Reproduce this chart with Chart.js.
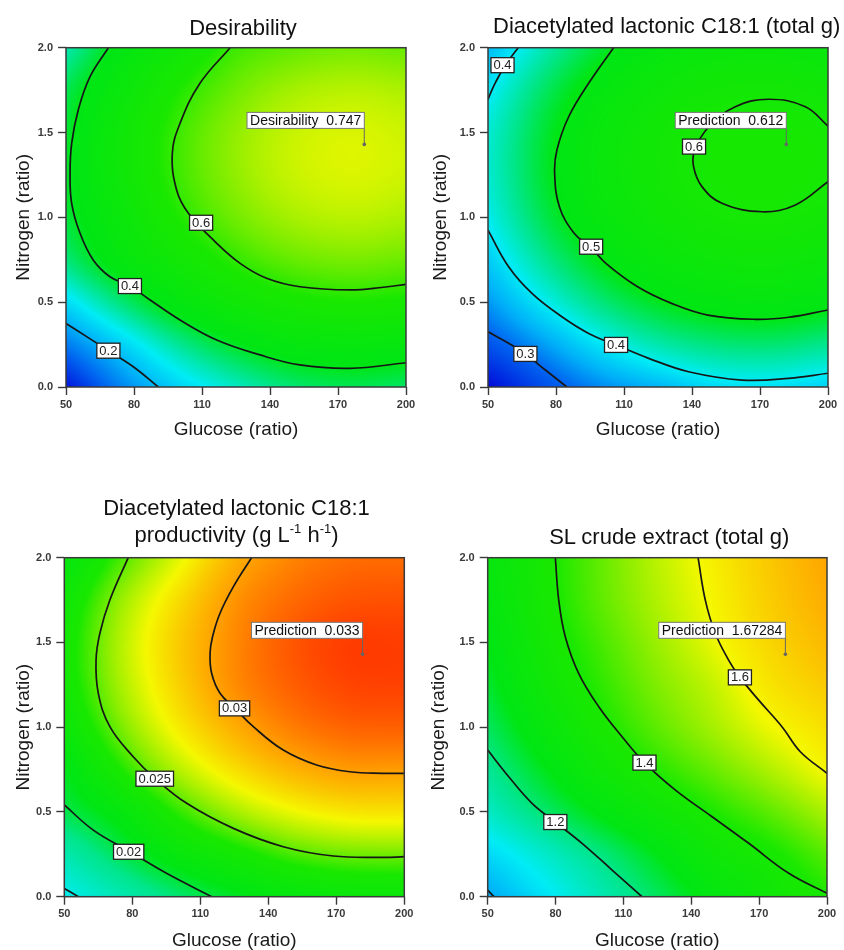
<!DOCTYPE html>
<html>
<head>
<meta charset="utf-8">
<script src="https://cdn.jsdelivr.net/npm/chart.js@4.4.1/dist/chart.umd.min.js"></script>
<style>
html,body{margin:0;padding:0;background:#fff;width:844px;height:950px;overflow:hidden;position:relative;}
canvas.c{position:absolute;}
.t{position:absolute;font-family:'Liberation Sans',Arial,sans-serif;font-size:22px;line-height:26px;color:#111;text-align:center;width:500px;white-space:nowrap;z-index:2;}
.t sup{font-size:13px;line-height:0;vertical-align:9px;}
</style>
</head>
<body>
<div class="t" style="left:-7px;top:15px">Desirability</div>
<div class="t" style="left:416.7px;top:13px">Diacetylated lactonic C18:1 (total g)</div>
<div class="t" style="left:-13.5px;top:495px;line-height:26.7px">Diacetylated lactonic C18:1<br>productivity (g L<sup>-1</sup> h<sup>-1</sup>)</div>
<div class="t" style="left:419.2px;top:524px">SL crude extract (total g)</div>
<canvas id="c1" class="c" width="422" height="460" style="left:0;top:0;width:422px;height:460px"></canvas>
<canvas id="c2" class="c" width="422" height="460" style="left:422px;top:0;width:422px;height:460px"></canvas>
<canvas id="c3" class="c" width="422" height="490" style="left:0;top:460px;width:422px;height:490px"></canvas>
<canvas id="c4" class="c" width="422" height="490" style="left:422px;top:460px;width:422px;height:490px"></canvas>
<script>
// ---------------- data ----------------
const glucoseGrid = [50, 75, 100, 125, 150, 175, 200];
const nitrogenGrid = [0, 0.25, 0.5, 0.75, 1.0, 1.25, 1.5, 1.75, 2.0];
const glucoseTicks = [50, 80, 110, 140, 170, 200];
const nitrogenTicks = [0, 0.5, 1.0, 1.5, 2.0];
const nitrogenTickLabels = ['0.0', '0.5', '1.0', '1.5', '2.0'];

// response grids: one row per nitrogen level (0 → 2.0), one column per glucose level
const desirabilityGrid = [
  [0.05, 0.16, 0.24, 0.30, 0.35, 0.37, 0.36],
  [0.15, 0.24, 0.33, 0.40, 0.445, 0.455, 0.45],
  [0.25, 0.35, 0.44, 0.511, 0.556, 0.573, 0.563],
  [0.345, 0.445, 0.523, 0.596, 0.641, 0.658, 0.647],
  [0.385, 0.48, 0.58, 0.652, 0.697, 0.714, 0.703],
  [0.395, 0.507, 0.607, 0.679, 0.725, 0.742, 0.731],
  [0.39, 0.507, 0.607, 0.679, 0.724, 0.741, 0.730],
  [0.37, 0.478, 0.578, 0.650, 0.695, 0.712, 0.702],
  [0.31, 0.43, 0.521, 0.605, 0.638, 0.655, 0.644]
];
const lactonicGrid = [
  [0.20, 0.275, 0.325, 0.356, 0.385, 0.39, 0.378],
  [0.28, 0.339, 0.395, 0.434, 0.456, 0.461, 0.449],
  [0.335, 0.401, 0.457, 0.495, 0.517, 0.522, 0.511],
  [0.374, 0.446, 0.502, 0.541, 0.563, 0.568, 0.556],
  [0.403, 0.476, 0.532, 0.571, 0.593, 0.598, 0.586],
  [0.416, 0.489, 0.545, 0.584, 0.606, 0.611, 0.602],
  [0.414, 0.486, 0.542, 0.581, 0.603, 0.608, 0.601],
  [0.394, 0.467, 0.523, 0.562, 0.584, 0.589, 0.577],
  [0.359, 0.432, 0.488, 0.527, 0.549, 0.554, 0.542]
];
const productivityGrid = [
  [0.0142, 0.0168, 0.0190, 0.0205, 0.0215, 0.0221, 0.0222],
  [0.0170, 0.0197, 0.0218, 0.0232, 0.0245, 0.0251, 0.0252],
  [0.0197, 0.0216, 0.0241, 0.0260, 0.0273, 0.0280, 0.0281],
  [0.0207, 0.0238, 0.0263, 0.0282, 0.0295, 0.0302, 0.0302],
  [0.0222, 0.0253, 0.0278, 0.0297, 0.0310, 0.0317, 0.0318],
  [0.0230, 0.0261, 0.0286, 0.0306, 0.0318, 0.0325, 0.0326],
  [0.0231, 0.0263, 0.0288, 0.0307, 0.0320, 0.0327, 0.0327],
  [0.0226, 0.0258, 0.0283, 0.0304, 0.0315, 0.0321, 0.0322],
  [0.0214, 0.0245, 0.0271, 0.0296, 0.0308, 0.0314, 0.0315]
];
const crudeGrid = [
  [0.99, 1.075, 1.15, 1.22, 1.29, 1.35, 1.40],
  [1.06, 1.13, 1.198, 1.27, 1.345, 1.39, 1.455],
  [1.135, 1.21, 1.28, 1.345, 1.403, 1.46, 1.53],
  [1.18, 1.265, 1.345, 1.41, 1.47, 1.535, 1.605],
  [1.22, 1.31, 1.39, 1.46, 1.525, 1.595, 1.65],
  [1.25, 1.345, 1.418, 1.49, 1.555, 1.64, 1.695],
  [1.275, 1.365, 1.44, 1.515, 1.59, 1.67, 1.73],
  [1.295, 1.38, 1.46, 1.535, 1.607, 1.69, 1.755],
  [1.305, 1.385, 1.465, 1.545, 1.62, 1.70, 1.77]
];

// colour ramp (blue → cyan → green → yellow → red) and the response value of each ramp colour per panel
const colourRamp = [[0,0,215],[0,100,240],[0,175,248],[0,236,245],[0,230,140],[0,230,20],[25,232,0],[140,238,0],[245,248,0],[255,165,0],[255,50,0]];
const desirabilityBreaks = [0.03, 0.13, 0.20, 0.27, 0.335, 0.41, 0.575, 0.675, 0.765, 0.86, 0.95];
const lactonicBreaks = [0.19, 0.30, 0.35, 0.40, 0.45, 0.50, 0.62, 0.68, 0.72, 0.80, 0.90];
const productivityBreaks = [0.006, 0.009, 0.0115, 0.0140, 0.0185, 0.0209, 0.0238, 0.0256, 0.0275, 0.0300, 0.0330];
const crudeBreaks = [0.82, 0.92, 1.00, 1.09, 1.19, 1.27, 1.40, 1.50, 1.60, 1.77, 1.95];

// contour lines (glucose, nitrogen)
const desirabilityContour02 = [{x:50,y:0.375},{x:59.1,y:0.297},{x:68.7,y:0.214},{x:79.7,y:0.119},{x:90.7,y:0}];
const desirabilityContour04 = [{x:68.7,y:2.0},{x:60.6,y:1.829},{x:55.4,y:1.633},{x:52.5,y:1.436},{x:51.8,y:1.26},{x:52.5,y:1.083},{x:56.2,y:0.906},{x:62.0,y:0.749},{x:69.4,y:0.65},{x:78.2,y:0.595},{x:87.1,y:0.513},{x:100.3,y:0.395},{x:116.5,y:0.277},{x:135.6,y:0.189},{x:153.2,y:0.13},{x:175.3,y:0.11},{x:200,y:0.143}];
const desirabilityContour06 = [{x:122.4,y:2.0},{x:109.1,y:1.79},{x:100.3,y:1.554},{x:96.9,y:1.377},{x:98.8,y:1.161},{x:104,y:1.024},{x:116.5,y:0.847},{x:126.8,y:0.729},{x:138.5,y:0.641},{x:153.2,y:0.591},{x:175.3,y:0.572},{x:190,y:0.588},{x:200,y:0.605}];
const desirabilityLabels = [{x:109.6,y:0.968,text:'0.6'},{x:78.2,y:0.595,text:'0.4'},{x:68.7,y:0.214,text:'0.2'}];
const desirabilityPrediction = {x:181.6, y:1.43, text:'Desirability  0.747'};

const lactonicContour03 = [{x:50,y:0.326},{x:59.1,y:0.258},{x:66.5,y:0.195},{x:75.3,y:0.1},{x:84.8,y:0}];
const lactonicContour04a = [{x:50,y:1.695},{x:51.7,y:1.75},{x:53.5,y:1.8},{x:56.4,y:1.87},{x:59.4,y:1.93},{x:63.3,y:2.0}];
const lactonicContour04b = [{x:50,y:0.925},{x:59.1,y:0.709},{x:69.4,y:0.552},{x:82.6,y:0.414},{x:94.4,y:0.316},{x:106.5,y:0.248},{x:120.9,y:0.169},{x:138.5,y:0.09},{x:162,y:0.041},{x:182.7,y:0.051},{x:200,y:0.081}];
const lactonicContour05 = [{x:105.4,y:2.0},{x:94.4,y:1.79},{x:85.6,y:1.593},{x:80.4,y:1.397},{x:79.4,y:1.26},{x:81.5,y:1.063},{x:88,y:0.906},{x:95,y:0.827},{x:102,y:0.729},{x:116,y:0.591},{x:131,y:0.493},{x:147,y:0.424},{x:167.9,y:0.399},{x:182.7,y:0.411},{x:200,y:0.454}];
const lactonicContour06 = [{x:200,y:1.538},{x:190,y:1.652},{x:173.8,y:1.696},{x:159.1,y:1.652},{x:147.4,y:1.534},{x:141.2,y:1.397},{x:140.7,y:1.299},{x:144.4,y:1.181},{x:153.2,y:1.083},{x:170.9,y:1.033},{x:185.6,y:1.073},{x:200,y:1.21}];
const lactonicLabels = [{x:56.4,y:1.897,text:'0.4'},{x:140.9,y:1.417,text:'0.6'},{x:95.5,y:0.827,text:'0.5'},{x:106.5,y:0.248,text:'0.4'},{x:66.5,y:0.195,text:'0.3'}];
const lactonicPrediction = {x:181.6, y:1.43, text:'Prediction  0.612'};

const productivityContour015 = [{x:50,y:0.049},{x:56.2,y:0}];
const productivityContour02 = [{x:50,y:0.541},{x:62.8,y:0.393},{x:78.6,y:0.268},{x:95.1,y:0.138},{x:115,y:0}];
const productivityContour025 = [{x:78.2,y:2.0},{x:70.1,y:1.75},{x:65.7,y:1.554},{x:64,y:1.396},{x:65,y:1.2},{x:70.1,y:1.003},{x:80.4,y:0.826},{x:90,y:0.698},{x:104,y:0.551},{x:124.6,y:0.403},{x:146.6,y:0.295},{x:168.7,y:0.24},{x:190.7,y:0.232},{x:200,y:0.236}];
const productivityContour03 = [{x:132.6,y:2.0},{x:124.6,y:1.829},{x:118.7,y:1.672},{x:115.4,y:1.534},{x:114.3,y:1.436},{x:115,y:1.318},{x:118.7,y:1.2},{x:125.3,y:1.111},{x:133.4,y:1.003},{x:146.6,y:0.865},{x:161.3,y:0.777},{x:176,y:0.737},{x:190.7,y:0.728},{x:200,y:0.728}];
const productivityLabels = [{x:125.1,y:1.111,text:'0.03'},{x:89.9,y:0.696,text:'0.025'},{x:78.4,y:0.265,text:'0.02'}];
const productivityPrediction = {x:181.6, y:1.43, text:'Prediction  0.033'};

const crudeContour10 = [{x:50,y:0.039},{x:52.7,y:0}];
const crudeContour12 = [{x:50,y:0.865},{x:59.3,y:0.708},{x:69.6,y:0.551},{x:79.9,y:0.44},{x:91.7,y:0.315},{x:105,y:0.157},{x:118.2,y:0}];
const crudeContour14 = [{x:79.9,y:2.0},{x:81.4,y:1.75},{x:84.3,y:1.534},{x:90.2,y:1.318},{x:99.1,y:1.121},{x:109.4,y:0.944},{x:119.3,y:0.791},{x:133,y:0.629},{x:149.2,y:0.472},{x:165.4,y:0.315},{x:183.1,y:0.138},{x:200,y:0.02}];
const crudeContour16 = [{x:143,y:2.0},{x:146.2,y:1.75},{x:150.6,y:1.554},{x:156.5,y:1.396},{x:161.5,y:1.294},{x:169.8,y:1.16},{x:180.1,y:1.003},{x:188.2,y:0.855},{x:200,y:0.728}];
const crudeLabels = [{x:161.5,y:1.294,text:'1.6'},{x:119.3,y:0.791,text:'1.4'},{x:79.9,y:0.4405,text:'1.2'}];
const crudePrediction = {x:181.6, y:1.43, text:'Prediction  1.67284'};

// ---------------- rendering helpers ----------------
const FONT = "'Liberation Sans', Arial, sans-serif";
Chart.defaults.font.family = FONT;

function fracIndex(axis, v) {
  const n = axis.length;
  if (v <= axis[0]) return (v - axis[0]) / (axis[1] - axis[0]);
  for (let i = 0; i < n - 1; i++) {
    if (v <= axis[i + 1]) return i + (v - axis[i]) / (axis[i + 1] - axis[i]);
  }
  return n - 1 + (v - axis[n - 1]) / (axis[n - 1] - axis[n - 2]);
}
function padGrid(grid) {
  const nx = grid[0].length, ny = grid.length;
  const rows = grid.map(r => [2 * r[0] - r[1], ...r, 2 * r[nx - 1] - r[nx - 2]]);
  const first = rows[0].map((v, i) => 2 * v - rows[1][i]);
  const last = rows[ny - 1].map((v, i) => 2 * v - rows[ny - 2][i]);
  return [first, ...rows, last];
}
function cubic(p0, p1, p2, p3, t) {
  return p1 + 0.5 * t * (p2 - p0 + t * (2 * p0 - 5 * p1 + 4 * p2 - p3 + t * (3 * (p1 - p2) + p3 - p0)));
}
function sampleField(ext, fx, fy, nx, ny) {
  const i0 = Math.min(Math.max(Math.floor(fx), 0), nx - 2), tx = fx - i0;
  const j0 = Math.min(Math.max(Math.floor(fy), 0), ny - 2), ty = fy - j0;
  const c = [0, 0, 0, 0];
  for (let k = 0; k < 4; k++) {
    const r = ext[j0 + k];
    c[k] = cubic(r[i0], r[i0 + 1], r[i0 + 2], r[i0 + 3], tx);
  }
  return cubic(c[0], c[1], c[2], c[3], ty);
}
function rampColour(breaks, v, out) {
  const n = breaks.length;
  if (v <= breaks[0]) { const c = colourRamp[0]; out[0]=c[0]; out[1]=c[1]; out[2]=c[2]; return; }
  for (let k = 0; k < n - 1; k++) {
    if (v <= breaks[k + 1]) {
      const t = (v - breaks[k]) / (breaks[k + 1] - breaks[k]);
      const a = colourRamp[k], b = colourRamp[k + 1];
      out[0] = a[0] + (b[0] - a[0]) * t; out[1] = a[1] + (b[1] - a[1]) * t; out[2] = a[2] + (b[2] - a[2]) * t;
      return;
    }
  }
  const c = colourRamp[n - 1]; out[0]=c[0]; out[1]=c[1]; out[2]=c[2];
}

function panelPlugin(p) {
  return {
    id: 'panel_' + p.id,
    beforeDatasetsDraw(chart) {
      const {ctx, chartArea: a, scales: {x, y}} = chart;
      const W = a.right - a.left, H = a.bottom - a.top;
      const w = Math.round(W), h = Math.round(H);
      const off = document.createElement('canvas');
      off.width = w; off.height = h;
      const octx = off.getContext('2d');
      const img = octx.createImageData(w, h);
      const ext = padGrid(p.grid);
      const nx = glucoseGrid.length, ny = nitrogenGrid.length;
      const fxs = new Float64Array(w), fys = new Float64Array(h);
      for (let i = 0; i < w; i++) fxs[i] = fracIndex(glucoseGrid, x.getValueForPixel(a.left + (i + 0.5) * W / w));
      for (let j = 0; j < h; j++) fys[j] = fracIndex(nitrogenGrid, y.getValueForPixel(a.top + (j + 0.5) * H / h));
      const col = [0, 0, 0];
      let k = 0;
      for (let j = 0; j < h; j++) {
        for (let i = 0; i < w; i++) {
          rampColour(p.breaks, sampleField(ext, fxs[i], fys[j], nx, ny), col);
          img.data[k++] = col[0]; img.data[k++] = col[1]; img.data[k++] = col[2]; img.data[k++] = 255;
        }
      }
      octx.putImageData(img, 0, 0);
      ctx.save();
      ctx.drawImage(off, a.left, a.top, W, H);
      ctx.restore();
    },
    afterDatasetsDraw(chart) {
      const {ctx, chartArea: a, scales: {x, y}} = chart;
      ctx.save();
      // frame
      ctx.strokeStyle = '#3a3a3a';
      ctx.lineWidth = 1.5;
      ctx.strokeRect(a.left, a.top, a.right - a.left, a.bottom - a.top);
      // contour labels
      ctx.font = '13px ' + FONT;
      ctx.textAlign = 'center';
      ctx.textBaseline = 'middle';
      for (const L of p.labels) {
        const px = x.getPixelForValue(L.x), py = y.getPixelForValue(L.y);
        const tw = ctx.measureText(L.text).width;
        const bw = tw + 5, bh = 15;
        ctx.fillStyle = '#ffffff';
        ctx.fillRect(px - bw / 2, py - bh / 2, bw, bh);
        ctx.strokeStyle = '#222';
        ctx.lineWidth = 1.3;
        ctx.strokeRect(px - bw / 2, py - bh / 2, bw, bh);
        ctx.fillStyle = '#222';
        ctx.fillText(L.text, px, py + 0.5);
      }
      // prediction flag
      const P = p.pred;
      const px = x.getPixelForValue(P.x), py = y.getPixelForValue(P.y);
      ctx.font = '14px ' + FONT;
      const tw = ctx.measureText(P.text).width;
      const bw = tw + 6, bh = 16, gap = 16;
      ctx.strokeStyle = '#666';
      ctx.lineWidth = 1;
      ctx.beginPath();
      ctx.moveTo(px, py - gap);
      ctx.lineTo(px, py);
      ctx.stroke();
      ctx.fillStyle = '#666';
      ctx.beginPath();
      ctx.arc(px, py, 1.8, 0, Math.PI * 2);
      ctx.fill();
      ctx.fillStyle = '#ffffff';
      ctx.fillRect(px - bw, py - gap - bh, bw, bh);
      ctx.strokeStyle = '#777';
      ctx.strokeRect(px - bw, py - gap - bh, bw, bh);
      ctx.fillStyle = '#111';
      ctx.textAlign = 'center';
      ctx.fillText(P.text, px - bw / 2, py - gap - bh / 2 + 0.5);
      ctx.restore();
    }
  };
}

function makePanel(p) {
  const L = p.layout;
  const datasets = p.contours.map(c => ({
    data: c,
    showLine: true,
    borderColor: '#161616',
    borderWidth: 1.7,
    pointRadius: 0,
    pointHoverRadius: 0,
    tension: 0.4,
    fill: false
  }));
  return new Chart(document.getElementById(p.id), {
    type: 'scatter',
    data: {datasets},
    plugins: [panelPlugin(p)],
    options: {
      responsive: false,
      animation: false,
      devicePixelRatio: 1,
      events: [],
      layout: {padding: {top: L.top, right: L.right, bottom: L.bottom, left: 0}},
      plugins: {legend: {display: false}, tooltip: {enabled: false}, title: {display: false}},
      scales: {
        x: {
          type: 'linear', position: 'bottom', min: 50, max: 200,
          afterBuildTicks: s => { s.ticks = glucoseTicks.map(v => ({value: v})); },
          afterFit: s => { s.height = L.xh; },
          ticks: {autoSkip: false, maxRotation: 0, padding: 3, color: '#3a3a3a', font: {size: 11, weight: 'bold'}, callback: (v, i) => String(glucoseTicks[i])},
          grid: {drawOnChartArea: false, drawTicks: true, tickLength: 8, tickColor: '#3a3a3a', tickWidth: 1.4},
          border: {display: false},
          title: {display: true, text: 'Glucose (ratio)', color: '#1a1a1a', font: {size: 19, lineHeight: 1}, padding: {top: 0, bottom: 0}}
        },
        y: {
          type: 'linear', position: 'left', min: 0, max: 2,
          afterBuildTicks: s => { s.ticks = nitrogenTicks.map(v => ({value: v})); },
          afterFit: s => { s.width = L.yw; },
          ticks: {autoSkip: false, padding: 5, color: '#3a3a3a', font: {size: 11, weight: 'bold'}, callback: (v, i) => nitrogenTickLabels[i]},
          grid: {drawOnChartArea: false, drawTicks: true, tickLength: 8, tickColor: '#3a3a3a', tickWidth: 1.4},
          border: {display: false},
          title: {display: true, text: 'Nitrogen (ratio)', color: '#1a1a1a', font: {size: 19, lineHeight: 1}, padding: {top: L.yt, bottom: 0}}
        }
      }
    }
  });
}

makePanel({id: 'c1', grid: desirabilityGrid, breaks: desirabilityBreaks,
  contours: [desirabilityContour02, desirabilityContour04, desirabilityContour06],
  labels: desirabilityLabels, pred: desirabilityPrediction,
  layout: {top: 47.7, right: 16, bottom: 21, yw: 66, xh: 52, yt: 13.8}});
makePanel({id: 'c2', grid: lactonicGrid, breaks: lactonicBreaks,
  contours: [lactonicContour03, lactonicContour04a, lactonicContour04b, lactonicContour05, lactonicContour06],
  labels: lactonicLabels, pred: lactonicPrediction,
  layout: {top: 47.7, right: 16, bottom: 21, yw: 66, xh: 52, yt: 9.5}});
makePanel({id: 'c3', grid: productivityGrid, breaks: productivityBreaks,
  contours: [productivityContour015, productivityContour02, productivityContour025, productivityContour03],
  labels: productivityLabels, pred: productivityPrediction,
  layout: {top: 97.7, right: 17.7, bottom: 0.2, yw: 64.3, xh: 53.1, yt: 14.5}});
makePanel({id: 'c4', grid: crudeGrid, breaks: crudeBreaks,
  contours: [crudeContour10, crudeContour12, crudeContour14, crudeContour16],
  labels: crudeLabels, pred: crudePrediction,
  layout: {top: 97.7, right: 17, bottom: 0.2, yw: 65.7, xh: 53.1, yt: 7.2}});
</script>
</body>
</html>
